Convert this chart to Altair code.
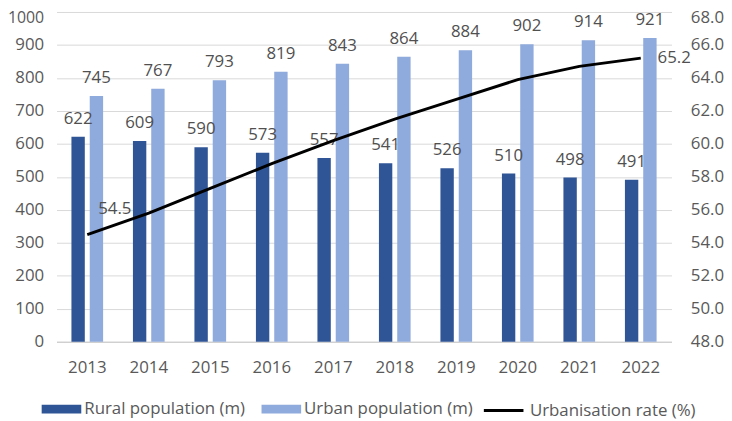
import altair as alt
import pandas as pd

years = [2013, 2014, 2015, 2016, 2017, 2018, 2019, 2020, 2021, 2022]
rural = [622, 609, 590, 573, 557, 541, 526, 510, 498, 491]
urban = [745, 767, 793, 819, 843, 864, 884, 902, 914, 921]
rate = [54.5, 55.8, 57.3, 58.8, 60.2, 61.5, 62.7, 63.9, 64.7, 65.2]

left_ticks = [0, 100, 200, 300, 400, 500, 600, 700, 800, 900, 1000]
right_ticks = [48, 50, 52, 54, 56, 58, 60, 62, 64, 66, 68]

S_RURAL = "Rural population (m)"
S_URBAN = "Urban population (m)"
S_RATE = "Urbanisation rate (%)"

bars_df = pd.DataFrame(
    {"year": years * 2,
     "series": [S_RURAL] * len(years) + [S_URBAN] * len(years),
     "value": rural + urban}
)
line_df = pd.DataFrame({"year": years, "series": [S_RATE] * len(years), "rate": rate})

FONT = "Open Sans"
FS = 17
AX_COL = "#595959"
LBL_COL = "#505050"

x_enc = alt.X("year:O", title=None,
              scale=alt.Scale(paddingInner=0.485, paddingOuter=0.2425),
              axis=alt.Axis(labelAngle=0, ticks=False, domain=True, domainColor="#C8C8C8",
                            labelPadding=18, labelColor=AX_COL, labelFontSize=FS, labelFont=FONT))

y_left = alt.Y("value:Q", title=None,
               scale=alt.Scale(domain=[0, 1000], nice=False),
               axis=alt.Axis(values=left_ticks, format="d", domain=False, ticks=False, grid=True,
                             gridColor="#D9D9D9", labelPadding=13, labelColor=AX_COL,
                             labelOffset={"condition": {"test": "datum.value == 1000", "value": 6}, "value": 0},
                             labelFontSize={"condition": {"test": "datum.value == 1000", "value": 16}, "value": FS},
                             labelFont=FONT))

y_right = alt.Y("rate:Q", title=None,
                scale=alt.Scale(domain=[48, 68], nice=False),
                axis=alt.Axis(orient="right", values=right_ticks, format=".1f", domain=False,
                              ticks=False, grid=False, labelPadding=19, labelColor=AX_COL,
                              labelOffset={"condition": {"test": "datum.value == 68", "value": 6}, "value": 0},
                              labelFontSize=FS, labelFont=FONT))

bar = alt.Chart(bars_df).mark_bar().encode(
    x=x_enc,
    xOffset=alt.XOffset("series:N", scale=alt.Scale(domain=[S_RURAL, S_URBAN], paddingInner=0.27, paddingOuter=0)),
    y=y_left,
    color=alt.Color("series:N",
                    scale=alt.Scale(domain=[S_RURAL, S_URBAN], range=["#2F5597", "#8FAADC"]),
                    legend=alt.Legend(title=None, orient="none", direction="horizontal",
                                      legendX=-15, legendY=381,
                                      symbolType="M-1,-0.225H1V0.225H-1Z", symbolSize=1600,
                                      symbolStrokeWidth=0, labelOffset=3, columnPadding=16,
                                      labelLimit=0,
                                      labelFont=FONT, labelFontSize=FS, labelColor=AX_COL,
                                      padding=0)),
)

bar_text = alt.Chart(bars_df).mark_text(
    baseline="alphabetic", dy=-13, fontSize=FS, font=FONT, color=LBL_COL
).encode(
    x=x_enc,
    xOffset=alt.XOffset("series:N"),
    y=y_left,
    text=alt.Text("value:Q"),
)

bars = alt.layer(bar, bar_text)

line = alt.Chart(line_df).mark_line(strokeWidth=3).encode(
    x=x_enc,
    y=y_right,
    color=alt.Color("series:N",
                    scale=alt.Scale(domain=[S_RATE], range=["#000000"]),
                    legend=alt.Legend(title=None, orient="none", direction="horizontal",
                                      legendX=430, legendY=381,
                                      symbolType="stroke", symbolSize=1600,
                                      symbolStrokeWidth=3, labelOffset=5, labelLimit=0,
                                      labelFont=FONT, labelFontSize=FS, labelColor=AX_COL,
                                      padding=0)),
)

first_lbl = alt.Chart(line_df).transform_filter(alt.datum.year == years[0]).mark_text(
    align="left", baseline="middle", dx=11, dy=-26, fontSize=FS, font=FONT, color=LBL_COL
).encode(x=x_enc, y=y_right, text=alt.Text("rate:Q", format=".1f"))

last_lbl = alt.Chart(line_df).transform_filter(alt.datum.year == years[-1]).mark_text(
    align="left", baseline="middle", dx=17, dy=0, fontSize=FS, font=FONT, color=LBL_COL
).encode(x=x_enc, y=y_right, text=alt.Text("rate:Q", format=".1f"))

lines = alt.layer(line, first_lbl, last_lbl)

chart = alt.layer(bars, lines).resolve_scale(
    y="independent", color="independent"
).properties(
    width=621, height=333,
    autosize=alt.AutoSizeParams(type="none"),
    padding={"left": 49, "top": 2, "right": 53, "bottom": 78},
).configure(font=FONT).configure_view(stroke=None)

chart.save("out.html", embed_options={"renderer": "svg", "actions": False})
